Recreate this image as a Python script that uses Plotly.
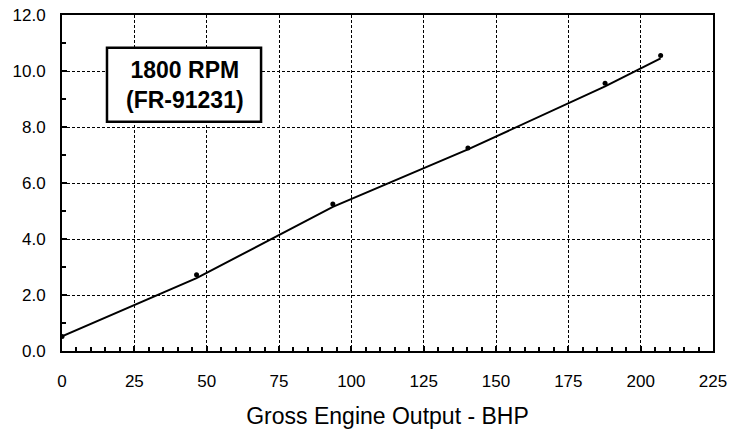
import plotly.graph_objects as go

# Measured points
bhp = [0, 46.5, 93.6, 140.3, 187.7, 206.9]
values = [0.52, 2.72, 5.25, 7.25, 9.56, 10.55]
# Fitted curve values at the same x
fit_values = [0.52, 2.6, 5.15, 7.2, 9.45, 10.45]

x_ticks = [0, 25, 50, 75, 100, 125, 150, 175, 200, 225]
y_ticks = [0, 2, 4, 6, 8, 10, 12]
label_text = "<b>1800 RPM<br>(FR-91231)</b>"
x_title = "Gross Engine Output - BHP"

fig = go.Figure()
fig.add_trace(go.Scatter(x=bhp, y=fit_values, mode="lines",
                         line=dict(color="black", width=2), showlegend=False))
fig.add_trace(go.Scatter(x=bhp, y=values, mode="markers",
                         marker=dict(color="black", size=5), showlegend=False))

fig.add_shape(type="rect", xref="x", yref="y", x0=15.55, x1=68.8, y0=8.19, y1=10.83,
              line=dict(color="black", width=2.5), fillcolor="white", layer="above")
fig.add_annotation(x=42.4, y=9.49, xref="x", yref="y", text=label_text, showarrow=False,
                   font=dict(family="Liberation Sans, Arial", size=23, color="black"),
                   align="center")

fig.update_layout(
    width=740, height=429,
    margin=dict(l=62, r=27, t=15, b=78),
    plot_bgcolor="white", paper_bgcolor="white",
    font=dict(family="Liberation Sans, Arial", color="black", size=17),
    xaxis=dict(range=[0, 225], tickvals=x_ticks, ticks="inside", ticklen=5, tickwidth=2,
               tickcolor="black", automargin=False, ticklabelstandoff=14,
               showgrid=True, gridcolor="black", gridwidth=1, griddash="3px,2px",
               showline=True, linecolor="black", linewidth=2, mirror=True,
               zeroline=False,
               minor=dict(dtick=5, ticks="inside", ticklen=4, tickwidth=2, tickcolor="black", showgrid=False),
               title=dict(text=x_title, font=dict(size=23), standoff=19)),
    yaxis=dict(range=[0, 12], tickvals=y_ticks, tickformat=".1f", ticks="inside", ticklen=5,
               tickwidth=2, tickcolor="black", automargin=False, ticklabelstandoff=11,
               showgrid=True, gridcolor="black", gridwidth=1, griddash="3px,2px",
               showline=True, linecolor="black", linewidth=2, mirror=True,
               zeroline=False,
               minor=dict(dtick=1, ticks="inside", ticklen=4, tickwidth=2, tickcolor="black", showgrid=False)),
)

fig.write_html("out.html", config={"displayModeBar": False},
               post_script="document.body.style.margin='0';document.body.style.overflow='hidden';")
